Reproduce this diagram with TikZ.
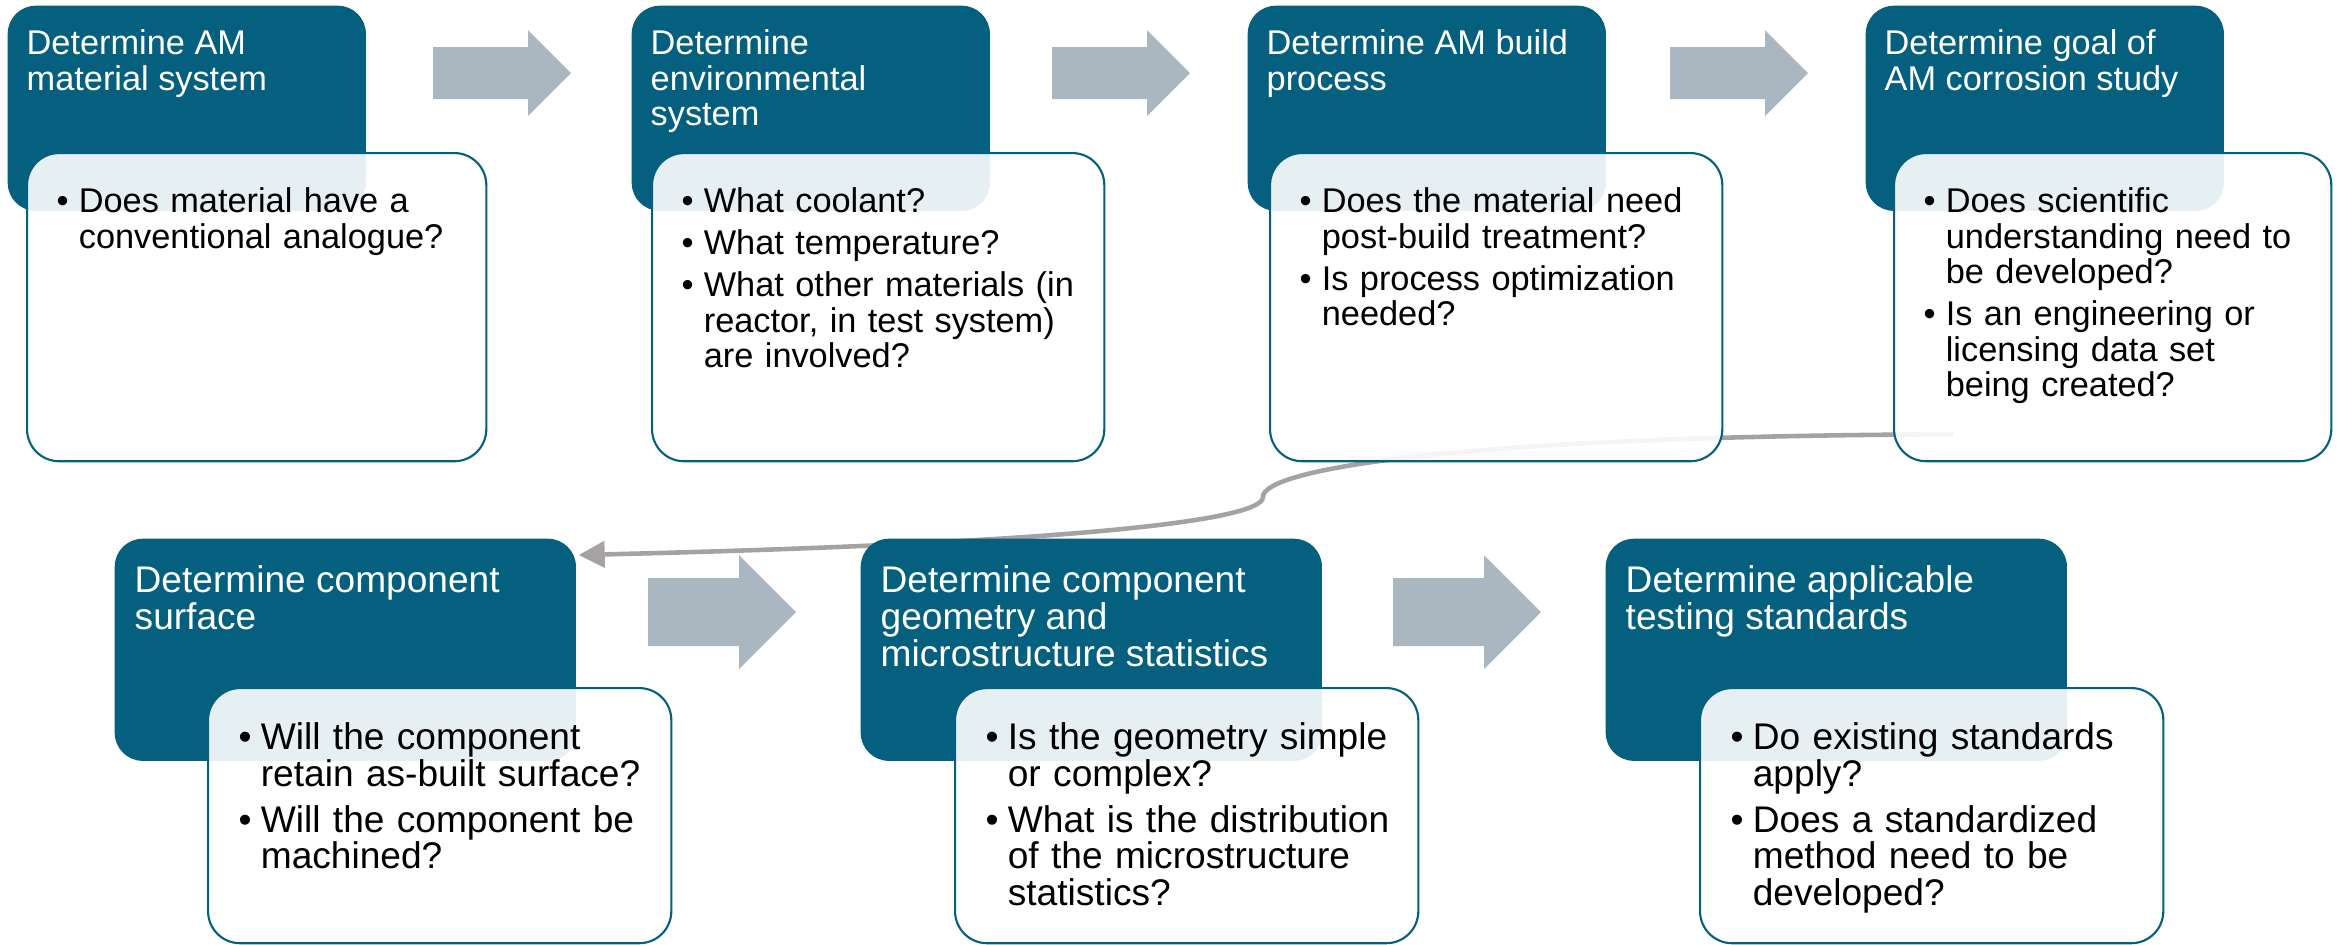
\documentclass[tikz,border=0pt]{standalone}
\usepackage{fontspec}
\setmainfont{Liberation Sans}
\usepackage{xcolor}
\usepackage{tikz}
\usetikzlibrary{
  positioning,
  backgrounds,
  arrows.meta
}

\definecolor{stepteal}{RGB}{4,96,126}
\definecolor{flowgrey}{RGB}{171,183,192}
\definecolor{linkgrey}{RGB}{166,162,162}

\newlength{\qind}
\setlength{\qind}{6.3pt}
\newcommand{\qitem}[1]{\hangindent=\qind\hangafter=1\noindent\makebox[\qind][l]{\textbullet}#1\par}

\tikzset{
  headbox/.style={rectangle, rounded corners=0.28cm, fill=stepteal, inner sep=0pt, anchor=north west},
  askbox/.style={rectangle, rounded corners=0.32cm, draw=stepteal, line width=0.6pt,
    fill=white, fill opacity=0.9, draw opacity=1, inner sep=0pt, anchor=north west},
  toprow/.style={minimum width=3.58cm, minimum height=2.05cm},
  lowrow/.style={minimum width=4.61cm, minimum height=2.22cm},
  topask/.style={minimum width=4.52cm, minimum height=3.08cm},
  lowask/.style={minimum width=4.63cm, minimum height=2.55cm},
  headtext/.style={anchor=north west, inner sep=0pt, text=white, align=left},
  asktext/.style={anchor=north west, inner sep=0pt, text=black, text width=4.6cm},
  topfont/.style={font=\fontsize{9.76}{10.1}\selectfont,
    execute at begin node={\setlength{\parskip}{1.85pt}}},
  lowfont/.style={font=\fontsize{10.55}{10.45}\selectfont,
    execute at begin node={\setlength{\parskip}{2.55pt}}},
  flow/.style={fill=flowgrey},
  link/.style={draw=linkgrey, line width=1.3pt, -{Triangle[length=7.4pt,width=7.4pt]}}
}

\begin{document}
\begin{tikzpicture}[x=0.01cm,y=-0.01cm]
  \useasboundingbox (0,0) rectangle (2341,944);

  % top row
  \node[headbox,toprow] (H_1) at (7,5) {};
  \node[askbox,topask,minimum width=4.59cm] (B_1) at (26,152) {};
  \node[headtext,topfont] (T_1) at ([shift={(19,24)}]H_1.north west) {Determine AM\\material system};
  \node[asktext,topfont] (L_1) at ([shift={(30,35)}]B_1.north west)
    {\qitem{Does material have a\newline conventional analogue?}};

  \node[headbox,toprow] (H_2) at (631,5) {};
  \node[askbox,topask] (B_2) at (651,152) {};
  \node[headtext,topfont] (T_2) at ([shift={(19,24)}]H_2.north west) {Determine\\environmental\\system};
  \node[asktext,topfont] (L_2) at ([shift={(30,35)}]B_2.north west)
    {\qitem{What coolant?}\qitem{What temperature?}%
     \qitem{What other materials (in\newline reactor, in test system)\newline are involved?}};

  \node[headbox,toprow] (H_3) at (1247,5) {};
  \node[askbox,topask] (B_3) at (1269,152) {};
  \node[headtext,topfont] (T_3) at ([shift={(19,24)}]H_3.north west) {Determine AM build\\process};
  \node[asktext,topfont] (L_3) at ([shift={(30,35)}]B_3.north west)
    {\qitem{Does the material need\newline post-build treatment?}%
     \qitem{Is process optimization\newline needed?}};

  \node[headbox,toprow] (H_4) at (1865,5) {};
  \node[askbox,topask,minimum width=4.37cm] (B_4) at (1893,152) {};
  \node[headtext,topfont] (T_4) at ([shift={(19,24)}]H_4.north west) {Determine goal of\\AM corrosion study};
  \node[asktext,topfont] (L_4) at ([shift={(30,35)}]B_4.north west)
    {\qitem{Does scientific\newline understanding need to\newline be developed?}%
     \qitem{Is an engineering or\newline licensing data set\newline being created?}};

  % bottom row
  \node[headbox,lowrow] (H_5) at (114,538) {};
  \node[askbox,lowask] (B_5) at (207,687) {};
  \node[headtext,lowfont] (T_5) at ([shift={(20,27)}]H_5.north west) {Determine component\\surface};
  \node[asktext,lowfont] (L_5) at ([shift={(31,35)}]B_5.north west)
    {\qitem{Will the component\newline retain as-built surface?}%
     \qitem{Will the component be\newline machined?}};

  \node[headbox,lowrow] (H_6) at (860,538) {};
  \node[askbox,lowask] (B_6) at (954,687) {};
  \node[headtext,lowfont] (T_6) at ([shift={(20,27)}]H_6.north west) {Determine component\\geometry and\\microstructure statistics};
  \node[asktext,lowfont] (L_6) at ([shift={(31,35)}]B_6.north west)
    {\qitem{Is the geometry simple\newline or complex?}%
     \qitem{What is the distribution\newline of the microstructure\newline statistics?}};

  \node[headbox,lowrow] (H_7) at (1605,538) {};
  \node[askbox,lowask] (B_7) at (1699,687) {};
  \node[headtext,lowfont] (T_7) at ([shift={(20,27)}]H_7.north west) {Determine applicable\\testing standards};
  \node[asktext,lowfont] (L_7) at ([shift={(31,35)}]B_7.north west)
    {\qitem{Do existing standards\newline apply?}%
     \qitem{Does a standardized\newline method need to be\newline developed?}};

  % block arrows
  \foreach \ax in {433,1052,1670}
  \fill[flow] (\ax,47) -- ++(95,0) -- ++(0,-17) -- ++(43,43) -- ++(-43,43) -- ++(0,-17) -- ++(-95,0) -- cycle;
  \foreach \ax in {648,1393}
  \fill[flow] (\ax,578) -- ++(91,0) -- ++(0,-23) -- ++(57,57) -- ++(-57,57) -- ++(0,-23) -- ++(-91,0) -- cycle;

  % link from top row to bottom row
  \begin{scope}[on background layer]
    \coordinate (C_4) at ([shift={(60,-28)}]B_4.south west);
    \coordinate (C_5) at ([shift={(2,17)}]H_5.north east);
    \draw[link] (C_4) .. controls (1450,436) and (1262,470) .. (1263,497)
      .. controls (1263,525) and (1000,545) .. (C_5);
  \end{scope}
\end{tikzpicture}
\end{document}
